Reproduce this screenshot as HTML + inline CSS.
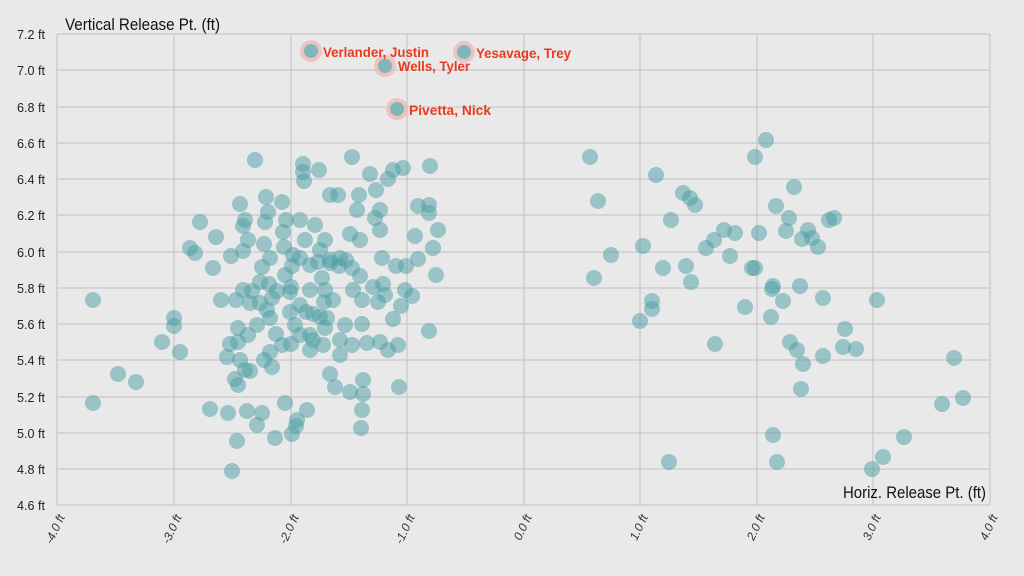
<!DOCTYPE html>
<html><head><meta charset="utf-8"><style>
html,body{margin:0;padding:0;background:#e9e9e9;}
svg{display:block;font-family:"Liberation Sans",sans-serif;}
</style></head><body>
<svg width="1024" height="576" viewBox="0 0 1024 576" xmlns="http://www.w3.org/2000/svg">
<rect width="1024" height="576" fill="#e9e9e9"/>
<g stroke="#c9c9c9" stroke-width="1.3">
<line x1="57" y1="34" x2="990" y2="34"/><line x1="57" y1="70" x2="990" y2="70"/><line x1="57" y1="107" x2="990" y2="107"/><line x1="57" y1="143" x2="990" y2="143"/><line x1="57" y1="179" x2="990" y2="179"/><line x1="57" y1="215" x2="990" y2="215"/><line x1="57" y1="252" x2="990" y2="252"/><line x1="57" y1="288" x2="990" y2="288"/><line x1="57" y1="324" x2="990" y2="324"/><line x1="57" y1="360" x2="990" y2="360"/><line x1="57" y1="397" x2="990" y2="397"/><line x1="57" y1="433" x2="990" y2="433"/><line x1="57" y1="469" x2="990" y2="469"/><line x1="57" y1="505" x2="990" y2="505"/>
<line x1="57" y1="34" x2="57" y2="505"/><line x1="174" y1="34" x2="174" y2="505"/><line x1="291" y1="34" x2="291" y2="505"/><line x1="407" y1="34" x2="407" y2="505"/><line x1="524" y1="34" x2="524" y2="505"/><line x1="640" y1="34" x2="640" y2="505"/><line x1="757" y1="34" x2="757" y2="505"/><line x1="873" y1="34" x2="873" y2="505"/><line x1="990" y1="34" x2="990" y2="505"/>
</g>
<g font-size="13" fill="#222">
<text x="17" y="39" textLength="28" lengthAdjust="spacingAndGlyphs">7.2 ft</text><text x="17" y="75" textLength="28" lengthAdjust="spacingAndGlyphs">7.0 ft</text><text x="17" y="112" textLength="28" lengthAdjust="spacingAndGlyphs">6.8 ft</text><text x="17" y="148" textLength="28" lengthAdjust="spacingAndGlyphs">6.6 ft</text><text x="17" y="184" textLength="28" lengthAdjust="spacingAndGlyphs">6.4 ft</text><text x="17" y="220" textLength="28" lengthAdjust="spacingAndGlyphs">6.2 ft</text><text x="17" y="257" textLength="28" lengthAdjust="spacingAndGlyphs">6.0 ft</text><text x="17" y="293" textLength="28" lengthAdjust="spacingAndGlyphs">5.8 ft</text><text x="17" y="329" textLength="28" lengthAdjust="spacingAndGlyphs">5.6 ft</text><text x="17" y="365" textLength="28" lengthAdjust="spacingAndGlyphs">5.4 ft</text><text x="17" y="402" textLength="28" lengthAdjust="spacingAndGlyphs">5.2 ft</text><text x="17" y="438" textLength="28" lengthAdjust="spacingAndGlyphs">5.0 ft</text><text x="17" y="474" textLength="28" lengthAdjust="spacingAndGlyphs">4.8 ft</text><text x="17" y="510" textLength="28" lengthAdjust="spacingAndGlyphs">4.6 ft</text>
</g>
<g font-size="12" fill="#333" font-style="italic" text-anchor="end">
<text transform="translate(65,517) rotate(-65)">-4.0 ft</text>
<text transform="translate(182,517) rotate(-65)">-3.0 ft</text>
<text transform="translate(299,517) rotate(-65)">-2.0 ft</text>
<text transform="translate(415,517) rotate(-65)">-1.0 ft</text>
<text transform="translate(532,517) rotate(-65)">0.0 ft</text>
<text transform="translate(648,517) rotate(-65)">1.0 ft</text>
<text transform="translate(765,517) rotate(-65)">2.0 ft</text>
<text transform="translate(881,517) rotate(-65)">3.0 ft</text>
<text transform="translate(998,517) rotate(-65)">4.0 ft</text>
</g>
<text x="65" y="30" font-size="17" fill="#111" textLength="155" lengthAdjust="spacingAndGlyphs">Vertical Release Pt. (ft)</text>
<text x="843" y="498" font-size="17" fill="#111" textLength="143" lengthAdjust="spacingAndGlyphs">Horiz. Release Pt. (ft)</text>
<g fill="#4a9ea3" fill-opacity="0.5">
<circle cx="93" cy="300" r="8"/><circle cx="93" cy="403" r="8"/><circle cx="118" cy="374" r="8"/><circle cx="136" cy="382" r="8"/><circle cx="162" cy="342" r="8"/><circle cx="174" cy="318" r="8"/><circle cx="174" cy="326" r="8"/><circle cx="180" cy="352" r="8"/><circle cx="190" cy="248" r="8"/><circle cx="195" cy="253" r="8"/><circle cx="213" cy="268" r="8"/><circle cx="221" cy="300" r="8"/><circle cx="200" cy="222" r="8"/><circle cx="216" cy="237" r="8"/><circle cx="210" cy="409" r="8"/><circle cx="232" cy="471" r="8"/><circle cx="237" cy="441" r="8"/><circle cx="262" cy="413" r="8"/><circle cx="228" cy="413" r="8"/><circle cx="238" cy="385" r="8"/><circle cx="257" cy="425" r="8"/><circle cx="275" cy="438" r="8"/><circle cx="247" cy="411" r="8"/><circle cx="231" cy="256" r="8"/><circle cx="250" cy="371" r="8"/><circle cx="235" cy="379" r="8"/><circle cx="245" cy="370" r="8"/><circle cx="238" cy="342" r="8"/><circle cx="238" cy="328" r="8"/><circle cx="240" cy="360" r="8"/><circle cx="255" cy="160" r="8"/><circle cx="240" cy="204" r="8"/><circle cx="245" cy="220" r="8"/><circle cx="243" cy="226" r="8"/><circle cx="243" cy="251" r="8"/><circle cx="248" cy="240" r="8"/><circle cx="243" cy="290" r="8"/><circle cx="252" cy="291" r="8"/><circle cx="236" cy="300" r="8"/><circle cx="250" cy="303" r="8"/><circle cx="260" cy="303" r="8"/><circle cx="262" cy="267" r="8"/><circle cx="270" cy="258" r="8"/><circle cx="272" cy="298" r="8"/><circle cx="277" cy="291" r="8"/><circle cx="266" cy="197" r="8"/><circle cx="268" cy="212" r="8"/><circle cx="265" cy="222" r="8"/><circle cx="282" cy="202" r="8"/><circle cx="286" cy="220" r="8"/><circle cx="293" cy="255" r="8"/><circle cx="283" cy="232" r="8"/><circle cx="284" cy="247" r="8"/><circle cx="264" cy="244" r="8"/><circle cx="269" cy="284" r="8"/><circle cx="276" cy="334" r="8"/><circle cx="270" cy="352" r="8"/><circle cx="264" cy="360" r="8"/><circle cx="272" cy="367" r="8"/><circle cx="282" cy="345" r="8"/><circle cx="291" cy="344" r="8"/><circle cx="285" cy="403" r="8"/><circle cx="292" cy="434" r="8"/><circle cx="297" cy="420" r="8"/><circle cx="296" cy="426" r="8"/><circle cx="307" cy="410" r="8"/><circle cx="306" cy="312" r="8"/><circle cx="303" cy="164" r="8"/><circle cx="303" cy="172" r="8"/><circle cx="304" cy="181" r="8"/><circle cx="319" cy="170" r="8"/><circle cx="291" cy="287" r="8"/><circle cx="292" cy="266" r="8"/><circle cx="290" cy="292" r="8"/><circle cx="295" cy="325" r="8"/><circle cx="300" cy="335" r="8"/><circle cx="300" cy="305" r="8"/><circle cx="310" cy="335" r="8"/><circle cx="313" cy="314" r="8"/><circle cx="313" cy="340" r="8"/><circle cx="320" cy="317" r="8"/><circle cx="324" cy="302" r="8"/><circle cx="322" cy="278" r="8"/><circle cx="327" cy="318" r="8"/><circle cx="330" cy="374" r="8"/><circle cx="335" cy="387" r="8"/><circle cx="339" cy="266" r="8"/><circle cx="340" cy="355" r="8"/><circle cx="350" cy="392" r="8"/><circle cx="333" cy="300" r="8"/><circle cx="340" cy="258" r="8"/><circle cx="350" cy="234" r="8"/><circle cx="352" cy="268" r="8"/><circle cx="360" cy="276" r="8"/><circle cx="362" cy="324" r="8"/><circle cx="362" cy="300" r="8"/><circle cx="352" cy="157" r="8"/><circle cx="338" cy="195" r="8"/><circle cx="346" cy="260" r="8"/><circle cx="359" cy="195" r="8"/><circle cx="370" cy="174" r="8"/><circle cx="376" cy="190" r="8"/><circle cx="375" cy="218" r="8"/><circle cx="380" cy="210" r="8"/><circle cx="382" cy="258" r="8"/><circle cx="380" cy="230" r="8"/><circle cx="385" cy="295" r="8"/><circle cx="388" cy="179" r="8"/><circle cx="393" cy="170" r="8"/><circle cx="403" cy="168" r="8"/><circle cx="396" cy="266" r="8"/><circle cx="363" cy="380" r="8"/><circle cx="362" cy="410" r="8"/><circle cx="361" cy="428" r="8"/><circle cx="363" cy="394" r="8"/><circle cx="367" cy="343" r="8"/><circle cx="380" cy="342" r="8"/><circle cx="388" cy="350" r="8"/><circle cx="373" cy="287" r="8"/><circle cx="383" cy="284" r="8"/><circle cx="378" cy="302" r="8"/><circle cx="393" cy="319" r="8"/><circle cx="399" cy="387" r="8"/><circle cx="412" cy="296" r="8"/><circle cx="406" cy="266" r="8"/><circle cx="418" cy="259" r="8"/><circle cx="418" cy="206" r="8"/><circle cx="429" cy="205" r="8"/><circle cx="429" cy="213" r="8"/><circle cx="430" cy="166" r="8"/><circle cx="429" cy="331" r="8"/><circle cx="438" cy="230" r="8"/><circle cx="436" cy="275" r="8"/><circle cx="433" cy="248" r="8"/><circle cx="405" cy="290" r="8"/><circle cx="415" cy="236" r="8"/><circle cx="398" cy="345" r="8"/><circle cx="401" cy="306" r="8"/><circle cx="320" cy="250" r="8"/><circle cx="330" cy="260" r="8"/><circle cx="325" cy="240" r="8"/><circle cx="315" cy="225" r="8"/><circle cx="357" cy="210" r="8"/><circle cx="360" cy="240" r="8"/><circle cx="330" cy="195" r="8"/><circle cx="310" cy="265" r="8"/><circle cx="345" cy="325" r="8"/><circle cx="352" cy="345" r="8"/><circle cx="325" cy="290" r="8"/><circle cx="290" cy="312" r="8"/><circle cx="257" cy="325" r="8"/><circle cx="270" cy="318" r="8"/><circle cx="248" cy="335" r="8"/><circle cx="230" cy="344" r="8"/><circle cx="227" cy="357" r="8"/><circle cx="310" cy="350" r="8"/><circle cx="300" cy="258" r="8"/><circle cx="305" cy="240" r="8"/><circle cx="300" cy="220" r="8"/><circle cx="318" cy="262" r="8"/><circle cx="330" cy="263" r="8"/><circle cx="310" cy="290" r="8"/><circle cx="325" cy="328" r="8"/><circle cx="285" cy="275" r="8"/><circle cx="340" cy="340" r="8"/><circle cx="260" cy="282" r="8"/><circle cx="267" cy="310" r="8"/><circle cx="353" cy="290" r="8"/><circle cx="323" cy="345" r="8"/>
<circle cx="590" cy="157" r="8"/><circle cx="598" cy="201" r="8"/><circle cx="594" cy="278" r="8"/><circle cx="611" cy="255" r="8"/><circle cx="640" cy="321" r="8"/><circle cx="643" cy="246" r="8"/><circle cx="652" cy="301" r="8"/><circle cx="652" cy="309" r="8"/><circle cx="656" cy="175" r="8"/><circle cx="663" cy="268" r="8"/><circle cx="669" cy="462" r="8"/><circle cx="671" cy="220" r="8"/><circle cx="683" cy="193" r="8"/><circle cx="690" cy="198" r="8"/><circle cx="695" cy="205" r="8"/><circle cx="686" cy="266" r="8"/><circle cx="691" cy="282" r="8"/><circle cx="706" cy="248" r="8"/><circle cx="714" cy="240" r="8"/><circle cx="715" cy="344" r="8"/><circle cx="724" cy="230" r="8"/><circle cx="730" cy="256" r="8"/><circle cx="735" cy="233" r="8"/><circle cx="745" cy="307" r="8"/><circle cx="752" cy="268" r="8"/><circle cx="755" cy="157" r="8"/><circle cx="755" cy="268" r="8"/><circle cx="759" cy="233" r="8"/><circle cx="766" cy="140" r="8"/><circle cx="772" cy="289" r="8"/><circle cx="773" cy="286" r="8"/><circle cx="771" cy="317" r="8"/><circle cx="773" cy="435" r="8"/><circle cx="777" cy="462" r="8"/><circle cx="783" cy="301" r="8"/><circle cx="776" cy="206" r="8"/><circle cx="786" cy="231" r="8"/><circle cx="789" cy="218" r="8"/><circle cx="790" cy="342" r="8"/><circle cx="794" cy="187" r="8"/><circle cx="797" cy="350" r="8"/><circle cx="803" cy="364" r="8"/><circle cx="801" cy="389" r="8"/><circle cx="802" cy="239" r="8"/><circle cx="800" cy="286" r="8"/><circle cx="808" cy="230" r="8"/><circle cx="812" cy="238" r="8"/><circle cx="818" cy="247" r="8"/><circle cx="823" cy="356" r="8"/><circle cx="823" cy="298" r="8"/><circle cx="829" cy="220" r="8"/><circle cx="834" cy="218" r="8"/><circle cx="845" cy="329" r="8"/><circle cx="843" cy="347" r="8"/><circle cx="856" cy="349" r="8"/><circle cx="872" cy="469" r="8"/><circle cx="877" cy="300" r="8"/><circle cx="883" cy="457" r="8"/><circle cx="904" cy="437" r="8"/><circle cx="942" cy="404" r="8"/><circle cx="954" cy="358" r="8"/><circle cx="963" cy="398" r="8"/>
</g>
<g>
<circle cx="311" cy="51" r="11" fill="#f0b4ae" fill-opacity="0.7"/><circle cx="311" cy="51" r="7" fill="#7fb7b8"/>
<circle cx="464" cy="52" r="11" fill="#f0b4ae" fill-opacity="0.7"/><circle cx="464" cy="52" r="7" fill="#7fb7b8"/>
<circle cx="385" cy="66" r="11" fill="#f0b4ae" fill-opacity="0.7"/><circle cx="385" cy="66" r="7" fill="#7fb7b8"/>
<circle cx="397" cy="109" r="11" fill="#f0b4ae" fill-opacity="0.7"/><circle cx="397" cy="109" r="7" fill="#7fb7b8"/>
</g>
<g fill="#e83a1e" font-weight="bold" font-size="14">
<text x="323" y="57" textLength="106" lengthAdjust="spacingAndGlyphs">Verlander, Justin</text>
<text x="476" y="58" textLength="95" lengthAdjust="spacingAndGlyphs">Yesavage, Trey</text>
<text x="398" y="71" textLength="72" lengthAdjust="spacingAndGlyphs">Wells, Tyler</text>
<text x="409" y="115" textLength="82" lengthAdjust="spacingAndGlyphs">Pivetta, Nick</text>
</g>
</svg>
</body></html>
